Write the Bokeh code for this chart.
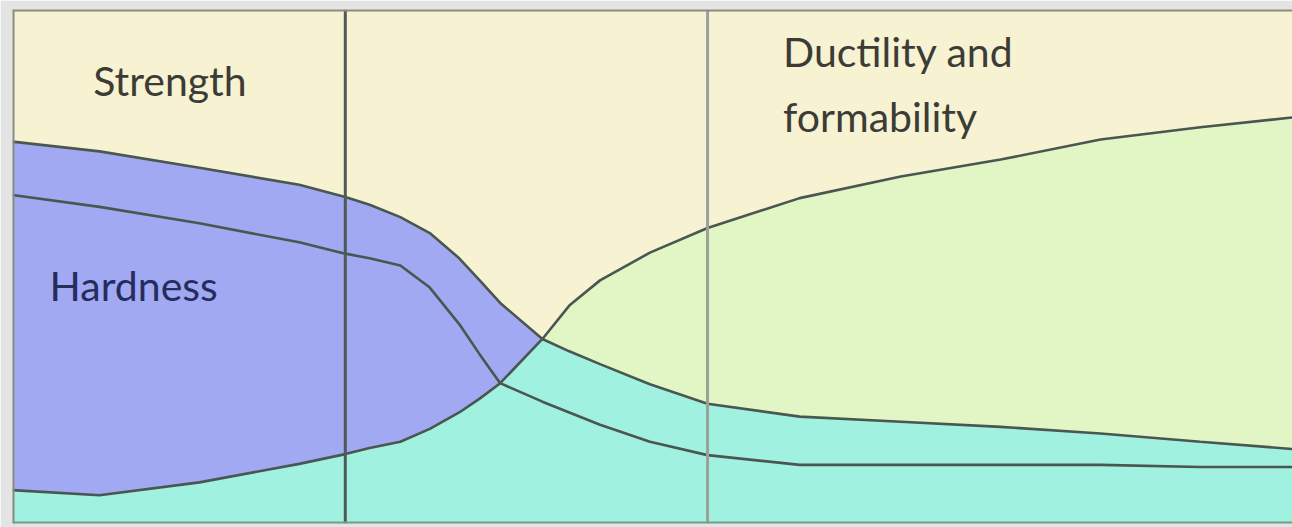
import numpy as np
from bokeh.plotting import figure
from bokeh.models import Span, Label
from bokeh.embed import file_html
from bokeh.resources import INLINE

# Position along the process (0-100) at which each curve was read
x_pos = [0, 6.8, 14.6, 22.4, 26.0, 27.9, 30.3, 32.6, 34.9, 36.5, 38.1,
         41.4, 43.5, 45.9, 49.8, 54.3, 61.5, 69.4, 77.2, 85.0, 92.8, 100]
strength = [74.3, 72.4, 69.2, 65.9, 63.5, 62.0, 59.6, 56.5, 51.6, 47.3, 42.9,
            35.9, 33.5, 31.0, 27.1, 23.3, 20.8, 19.8, 18.8, 17.5, 15.9, 14.5]
hardness = [63.9, 61.6, 58.4, 54.7, 52.5, 51.6, 50.2, 45.9, 38.8, 32.9, 27.3,
            23.7, 21.6, 19.2, 15.9, 13.3, 11.4, 11.4, 11.4, 11.4, 11.0, 11.0]
ductility = [6.5, 5.5, 8.0, 11.6, 13.5, 14.7, 15.9, 18.4, 21.6, 24.3, 27.3,
             35.9, 42.4, 47.3, 52.7, 57.5, 63.3, 67.5, 70.8, 74.7, 77.1, 79.0]
dividers = [26.0, 54.3]
divider_colors = ["#4f5a55", "#9aa19a"]

labels = ["Strength", "Hardness", "Ductility and", "formability"]
label_x = [6.3, 2.9, 60.2, 60.2]
label_y = [86.2, 46.4, 91.9, 79.2]
label_colors = ["#3c3c36", "#262c5c", "#3c3c36", "#3c3c36"]

x = np.array(x_pos)
s = np.array(strength)
d = np.array(ductility)
low = np.minimum(s, d)

p = figure(width=1292, height=527, x_range=(0, 100), y_range=(0, 100),
           output_backend="svg", toolbar_location=None,
           min_border_left=12, min_border_top=9, min_border_bottom=4, min_border_right=0)
p.border_fill_color = "#e4e4e4"
p.background_fill_color = "#f6f2d2"
p.outline_line_color = None
p.xaxis.visible = False
p.yaxis.visible = False
p.xgrid.visible = False
p.ygrid.visible = False

p.varea(x=x, y1=0, y2=s, fill_color="#a0a9f2")
p.varea(x=x, y1=0, y2=d, fill_color="#e2f5c4")
p.varea(x=x, y1=0, y2=low, fill_color="#a0f1e0")

line_color = "#4a5650"
p.line(x, s, line_color=line_color, line_width=2.6)
p.line(x, hardness, line_color=line_color, line_width=2.6)
p.line(x, d, line_color=line_color, line_width=2.6)

for loc, col in zip(dividers, divider_colors):
    p.add_layout(Span(location=loc, dimension="height", line_color=col, line_width=3))

frame_color = "#8a8a82"
p.add_layout(Span(location=0, dimension="height", line_color=frame_color, line_width=4))
p.add_layout(Span(location=100, dimension="width", line_color=frame_color, line_width=4))
p.add_layout(Span(location=0, dimension="width", line_color="#7a9a90", line_width=4))

for t, lx, ly, c in zip(labels, label_x, label_y, label_colors):
    p.add_layout(Label(x=lx, y=ly, text=t, text_font="Lato", text_font_size="41px",
                       text_color=c, text_baseline="alphabetic", text_align="left"))

open("out.html", "w").write(file_html(p, INLINE))
